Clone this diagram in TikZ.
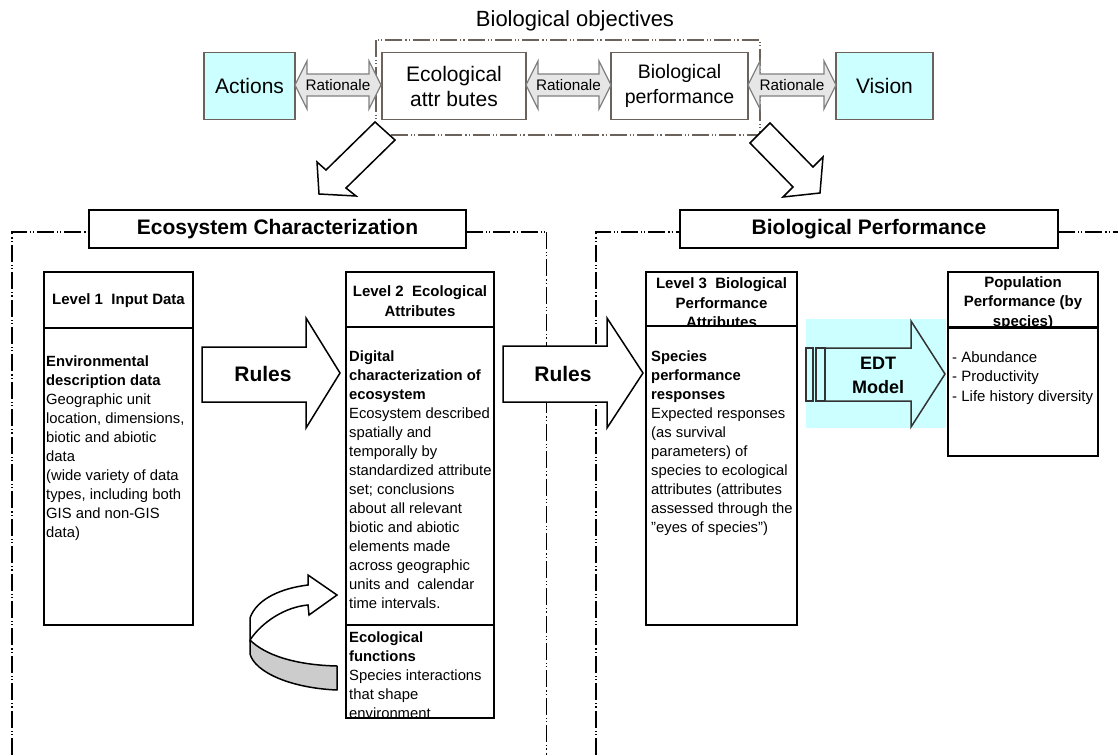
\documentclass[tikz,border=0pt]{standalone}
\usepackage{fontspec}
\setmainfont{Liberation Sans}
\usetikzlibrary{calc}
\definecolor{cyanfill}{HTML}{CCFFFF}
\definecolor{topline}{HTML}{6B635B}
\definecolor{ratfill}{HTML}{E6E6E6}
\definecolor{ratline}{HTML}{808080}
\definecolor{curlgray}{HTML}{CCCCCC}
\newcommand\fs[2]{\fontsize{#1}{#2}\selectfont}
% double-headed "Rationale" arrow between x=#1 and x=#2 on the line y=#3
\newcommand\ratarrow[4]{%
  \draw[ratarrow] (#1,#3) -- ({#1+12},{#3-24}) -- ({#1+12},{#3-11}) -- ({#2-12},{#3-11})
    -- ({#2-12},{#3-24}) -- (#2,#3) -- ({#2-12},{#3+24}) -- ({#2-12},{#3+11})
    -- ({#1+12},{#3+11}) -- ({#1+12},{#3+24}) -- cycle;
  \node[font=\fs{15.3}{17}, inner sep=0] (#4) at ({(#1+#2)/2},#3) {Rationale};}
\begin{document}
\begin{tikzpicture}[x=1pt,y=-1pt,
  topbox/.style={draw=topline, line width=1.6pt, inner sep=0, outer sep=0, align=center, font=\fs{21}{25}},
  ratarrow/.style={draw=ratline, fill=ratfill, line width=1.2pt, line join=miter},
  objline/.style={draw=topline, line width=1.6pt, dash pattern=on 17pt off 3pt on 1.2pt off 2pt on 1.2pt off 3pt},
  sectline/.style={line width=1.6pt, dash pattern=on 17pt off 3pt on 1.2pt off 2pt on 1.2pt off 3pt},
  thinsect/.style={line width=0.9pt, dash pattern=on 17pt off 3pt on 1.2pt off 2pt on 1.2pt off 3pt},
  framebox/.style={draw, line width=1.8pt, fill=white, inner sep=0, outer sep=0, anchor=north west},
  bigarrow/.style={draw, line width=1.5pt, fill=white, line join=miter},
  body/.style={inner sep=0, align=left, anchor=north west, font=\fs{14.8}{19}},
  headtxt/.style={inner sep=0, align=center, font=\bfseries\fs{15}{19.5}},
  secttitle/.style={draw, line width=1.8pt, fill=white, inner sep=0, minimum height=38pt, font=\bfseries\fs{21}{24}},
]
\useasboundingbox (0,0) rectangle (1118,755);

% ---------- objectives row ----------
\node[font=\fs{22}{24}, inner sep=0] (objt) at (575,21) {Biological objectives};
\draw[objline] (376,40) rectangle (760,135);

\node[topbox, fill=cyanfill, minimum width=91pt, minimum height=67pt] (act) at (249.5,86) {Actions};
\node[topbox, fill=white, minimum width=144pt, minimum height=67pt] (eco) at (454,86) {Ecological\\attr butes};
\node[topbox, fill=white, minimum width=137pt, minimum height=67pt, font=\fs{19.5}{25}] (bio) at (679.5,86) {Biological\\performance};
\node[topbox, fill=cyanfill, minimum width=97pt, minimum height=67pt] (vis) at (884.5,86) {Vision};

\ratarrow{295}{381}{85}{r1}
\ratarrow{526}{611}{85}{r2}
\ratarrow{748}{836}{85}{r3}

% block arrows down to the two sections
\draw[bigarrow] (319,194) -- (317,162) -- (326,170) -- (375,122) -- (395,140) -- (346,188) -- (356,196) -- cycle;
\draw[bigarrow] (820,193) -- (783,197) -- (793,187) -- (750,143) -- (770,123) -- (813,167) -- (823,157) -- cycle;

% ---------- section frames ----------
\draw[sectline] (12,755) -- (12,232) -- (89,232);
\draw[sectline] (466,232) -- (546,232);
\draw[thinsect] (546,232) -- (546,755);
\draw[sectline] (596,755) -- (596,232) -- (680,232);
\draw[sectline] (1058,232) -- (1118,232);

\node[secttitle, minimum width=377pt] (ecoch) at (277.5,229) {Ecosystem Characterization};
\node[secttitle, minimum width=378pt] (bioperf) at (869,229) {Biological Performance};

% ---------- level boxes ----------
\node[framebox, minimum width=149pt, minimum height=353pt] (lev1) at (44,272) {};
\draw[line width=1.8pt] ($(lev1.north west)+(0,56)$) -- ($(lev1.north east)+(0,56)$);
\node[headtxt] (lev1h) at (118.5,301) {Level 1\ \ Input Data};
\node[body] (lev1b) at (46,356) {\textbf{Environmental}\\\textbf{description data}\\Geographic unit\\location, dimensions,\\biotic and abiotic\\data\\(wide variety of data\\types, including both\\GIS and non-GIS\\data)};

\node[framebox, minimum width=148pt, minimum height=446pt] (lev2) at (346,272) {};
\draw[line width=1.8pt] ($(lev2.north west)+(0,55)$) -- ($(lev2.north east)+(0,55)$);
\draw[line width=1.8pt] ($(lev2.north west)+(0,353)$) -- ($(lev2.north east)+(0,353)$);
\node[headtxt] (lev2h) at (420,301) {Level 2\ \ Ecological\\Attributes};
\node[body] (lev2b) at (349,351) {\textbf{Digital}\\\textbf{characterization of}\\\textbf{ecosystem}\\Ecosystem described\\spatially and\\temporally by\\standardized attribute\\set; conclusions\\about all relevant\\biotic and abiotic\\elements made\\across geographic\\units and\ \ calendar\\time intervals.};
\begin{scope}
  \clip (348,627) rectangle (492,716);
  \node[body] (lev2f) at (349,632) {\textbf{Ecological}\\\textbf{functions}\\Species interactions\\that shape\\environment};
\end{scope}

\node[framebox, minimum width=151pt, minimum height=353pt] (lev3) at (646,272) {};
\begin{scope}
  \clip (648,274) rectangle (795,326);
  \node[headtxt] (lev3h) at (721.5,303) {Level 3\ \ Biological\\Performance\\Attributes};
\end{scope}
\draw[line width=1.8pt] ($(lev3.north west)+(0,54)$) -- ($(lev3.north east)+(0,54)$);
\node[body] (lev3b) at (651,351) {\textbf{Species}\\\textbf{performance}\\\textbf{responses}\\Expected responses\\(as survival\\parameters) of\\species to ecological\\attributes (attributes\\assessed through the\\\symbol{34}eyes of species\symbol{34})};

\node[framebox, minimum width=150pt, minimum height=184pt] (pop) at (948,272) {};
\begin{scope}
  \clip (950,274) rectangle (1096,327);
  \node[headtxt] (poph) at (1023,303) {Population\\Performance (by\\species)};
\end{scope}
\draw[line width=3pt] ($(pop.north west)+(0,55)$) -- ($(pop.north east)+(0,55)$);
\node[body, font=\fs{15}{19.5}] (popb) at (952,351) {- Abundance\\- Productivity\\- Life history diversity};

% ---------- rule arrows ----------
\draw[bigarrow] (202,347) -- (306,347) -- (306,318) -- (340,373) -- (306,428) -- (306,402) -- (202,402) -- cycle;
\node[font=\bfseries\fs{21}{24}, inner sep=0] (rules1) at (263,374) {Rules};
\draw[bigarrow] (503,346) -- (607,346) -- (607,318) -- (643,373) -- (607,428) -- (607,402) -- (503,402) -- cycle;
\node[font=\bfseries\fs{21}{24}, inner sep=0] (rules2) at (563,374) {Rules};

% ---------- EDT model ----------
\fill[cyanfill] (806,319) rectangle (946,428);
\draw[line width=1.5pt, draw=black!80] (806,348) rectangle (813,401);
\draw[line width=1.5pt, draw=black!80] (816,348) rectangle (825,401);
\draw[bigarrow, fill=cyanfill, draw=black!80] (825,348) -- (911,348) -- (911,321) -- (945,374) -- (911,427) -- (911,401) -- (825,401) -- cycle;
\node[font=\bfseries\fs{18}{24}, align=center, inner sep=0] (edt) at (878,375) {EDT\\Model};

% ---------- curled arrow feeding back into level 2 ----------
\draw[line width=1.5pt, fill=curlgray, line join=round]
  (250,640) -- (250,654) .. controls (255,672) and (290,688) .. (337,690)
  -- (337,666) .. controls (295,665) and (265,655) .. (250,640) -- cycle;
\draw[line width=1.5pt, fill=white, line join=miter]
  (308,585) .. controls (283,588) and (257,598) .. (250,618) -- (250,640)
  .. controls (262,622) and (285,607) .. (308,605) -- (309,615) -- (337,595) -- (308,575) -- cycle;
\end{tikzpicture}
\end{document}
